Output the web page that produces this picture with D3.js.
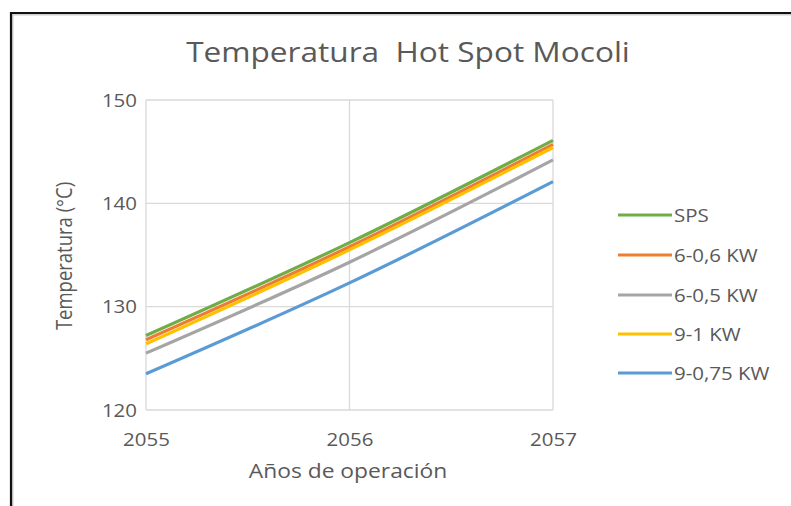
<!DOCTYPE html>
<html>
<head>
<meta charset="utf-8">
<script src="https://cdn.jsdelivr.net/npm/d3@7"></script>
<style>
  html, body { margin: 0; padding: 0; background: #fff; }
  svg { display: block; }
  text { font-family: "Open Sans", Lato, sans-serif; fill: #595959; }
</style>
</head>
<body>
<svg id="chart" width="791" height="506"></svg>
<script>
// Operating years on the x axis
const years = [2055, 2056, 2057];

// Hot spot temperature (°C) per scenario
const seriesNames = ["SPS", "6-0,6 KW", "6-0,5 KW", "9-1 KW", "9-0,75 KW"];
const sps     = [127.2, 136.2, 146.1];
const kw6_06  = [126.8, 135.8, 145.7];
const kw6_05  = [125.5, 134.3, 144.2];
const kw9_1   = [126.4, 135.5, 145.4];
const kw9_075 = [123.5, 132.3, 142.1];
const seriesValues = [sps, kw6_06, kw6_05, kw9_1, kw9_075];
const seriesColors = ["#70ad47", "#ed7d31", "#a5a5a5", "#ffc000", "#5b9bd5"];

const yTicks = [120, 130, 140, 150];
const xTicks = [2055, 2056, 2057];

// Text in this chart is set slightly wide
const SX = 1.17;

const svg = d3.select("#chart");

// Frame around the chart
svg.append("path")
  .attr("d", "M12.5,506 V14.5 H791")
  .attr("fill", "none").attr("stroke", "#cfcfcf").attr("stroke-width", 2);
svg.append("path")
  .attr("d", "M11,506 V13 H791")
  .attr("fill", "none").attr("stroke", "#111").attr("stroke-width", 2.2);

const plot = { left: 146, right: 553, top: 100, bottom: 410 };

const x = d3.scaleLinear().domain([2055, 2057]).range([plot.left, plot.right]);
const y = d3.scaleLinear().domain([120, 150]).range([plot.bottom, plot.top]);

// Gridlines
const g = svg.append("g");
g.selectAll("line.hgrid").data(yTicks).join("line")
  .attr("class", "hgrid")
  .attr("x1", plot.left).attr("x2", plot.right)
  .attr("y1", d => y(d)).attr("y2", d => y(d))
  .attr("stroke", "#d9d9d9").attr("stroke-width", 1.3);
g.selectAll("line.vgrid").data(xTicks).join("line")
  .attr("class", "vgrid")
  .attr("y1", plot.top).attr("y2", plot.bottom)
  .attr("x1", d => x(d)).attr("x2", d => x(d))
  .attr("stroke", "#d9d9d9").attr("stroke-width", 1.3);

// Axes (labels only, lines come from the grid)
const yAxis = d3.axisLeft(y).tickValues(yTicks).tickSize(0);
svg.append("g").attr("transform", `translate(${plot.left},0)`).call(yAxis)
  .call(a => a.select(".domain").remove())
  .selectAll("text")
  .attr("x", null).attr("dy", "0.36em")
  .attr("text-anchor", "end")
  .attr("transform", `translate(-9,0) scale(${SX},1)`)
  .attr("fill", "#595959")
  .style("font-size", "17.5px")
  .style("font-family", "'Open Sans', Lato, sans-serif");

const xAxis = d3.axisBottom(x).tickValues(xTicks).tickFormat(d3.format("d")).tickSize(0);
svg.append("g").attr("transform", `translate(0,${plot.bottom})`).call(xAxis)
  .call(a => a.select(".domain").remove())
  .selectAll("text")
  .attr("y", null).attr("dy", null)
  .attr("text-anchor", "middle")
  .attr("transform", `translate(0,36) scale(${SX},1)`)
  .attr("fill", "#595959")
  .style("font-size", "17.5px")
  .style("font-family", "'Open Sans', Lato, sans-serif");

// Series lines
const line = d3.line()
  .x((d, i) => x(years[i]))
  .y(d => y(d))
  .curve(d3.curveMonotoneX);

svg.append("g").selectAll("path").data(seriesValues).join("path")
  .attr("d", d => line(d))
  .attr("fill", "none")
  .attr("stroke", (d, i) => seriesColors[i])
  .attr("stroke-width", 3.2)
  .attr("stroke-linecap", "butt");

// Helper for horizontally widened text
function wideText(parent, tx, ty, str, size, anchor, rotate) {
  return parent.append("text")
    .attr("transform", `translate(${tx},${ty}) scale(${SX},1)` + (rotate ? ` rotate(${rotate})` : ""))
    .attr("text-anchor", anchor)
    .style("font-size", size + "px")
    .text(str);
}

// Title
wideText(svg, 408, 62, "Temperatura  Hot Spot Mocoli", 27, "middle").style("white-space", "pre");

// Axis titles
wideText(svg, 348, 478, "Años de operación", 19.5, "middle");
wideText(svg, 72, 256, "Temperatura (°C)", 18.5, "middle", -90);

// Legend
const legendY = [215, 255, 295, 334, 373];
const legend = svg.append("g").selectAll("g").data(seriesNames).join("g")
  .attr("transform", (d, i) => `translate(618,${legendY[i]})`);
legend.append("line")
  .attr("x1", 0).attr("x2", 54)
  .attr("stroke", (d, i) => seriesColors[i])
  .attr("stroke-width", 3);
legend.each(function(d) {
  wideText(d3.select(this), 56, 6.5, d, 17.5, "start");
});
</script>
</body>
</html>
